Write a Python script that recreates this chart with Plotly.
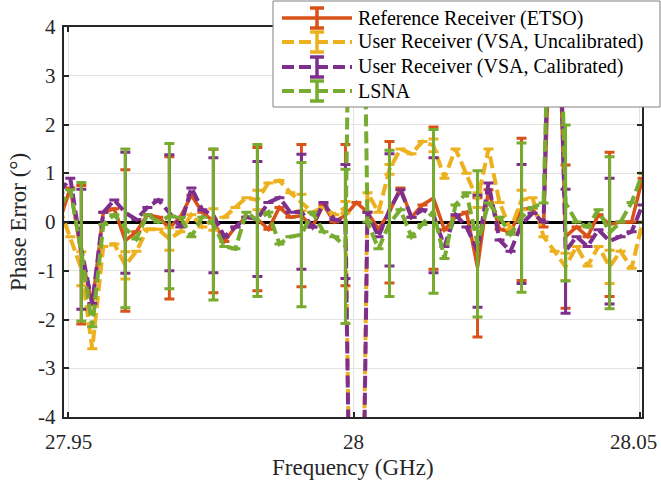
import plotly.graph_objects as go

# Frequencies (GHz)
freq = [27.94848, 27.95040, 27.95233, 27.95425, 27.95618, 27.95810, 27.96003, 27.96195,
        27.96388, 27.96580, 27.96773, 27.96965, 27.97158, 27.97350, 27.97543, 27.97735,
        27.97928, 27.98120, 27.98313, 27.98505, 27.98698, 27.98890, 27.99083, 27.99275,
        27.99468, 27.99660, 27.99853, 28.00045, 28.00238, 28.00430, 28.00623, 28.00815,
        28.01008, 28.01200, 28.01393, 28.01585, 28.01778, 28.01970, 28.02163, 28.02355,
        28.02548, 28.02740, 28.02933, 28.03125, 28.03318, 28.03510, 28.03703, 28.03895,
        28.04088, 28.04280, 28.04473, 28.04665, 28.04858, 28.05050]

# Phase error (deg)
ref_etso = [0.0, 0.7, -0.67, -1.7, 0.2, 0.27, -0.38, -0.2, 0.15, 0.1,
            -0.12, 0.1, 0.55, 0.2, 0.02, -0.4, -0.1, 0.1, 0.06, -0.15,
            0.3, 0.1, 0.13, -0.1, 0.35, 0.0, 0.14, 0.4, 0.2, -0.15,
            0.2, 0.7, 0.1, 0.35, 0.49, -0.16, 0.1, 0.2, -0.93, 0.66,
            -0.15, -0.2, 0.26, 0.28, -0.1, 7.0, -0.3, -0.1, -0.3, 0.15,
            -0.05, 0.0, 0.0, 0.9]
vsa_uncal = [0.3, -0.3, -0.96, -2.6, -0.5, -0.45, -0.89, -0.6, -0.15, -0.15,
             -0.35, -0.2, 0.15, -0.1, 0.05, 0.1, 0.3, 0.5, 0.45, 0.8,
             0.85, 0.6, 0.4, 0.2, 0.3, 0.15, 0.3, -16.0, 0.6, 0.2,
             1.08, 1.5, 1.4, 1.65, 1.57, 0.9, 1.5, 1.0, 0.45, 1.5,
             0.4, -0.15, 0.45, 0.5, -0.3, -0.6, -0.92, -0.5, -0.9, -0.5,
             -0.92, -0.6, -0.95, 0.0]
vsa_cal = [0.6, 0.9, -0.56, -1.67, 0.2, 0.45, 0.19, 0.05, 0.3, 0.45,
           0.19, -0.1, 0.7, 0.25, 0.14, -0.3, -0.1, 0.1, 0.06, 0.4,
           0.5, 0.2, 0.21, -0.1, 0.4, 0.05, 0.01, -16.0, 0.2, -0.3,
           0.25, 0.66, 0.1, 0.25, 0.14, -0.5, 0.15, -0.1, -0.6, 0.8,
           -0.37, -0.6, -0.04, 0.18, 0.0, 9.0, -0.6, -0.3, -0.5, -0.16,
           -0.39, -0.3, -0.2, 0.35]
lsna = [0.3, 0.66, -0.61, -2.15, -0.05, 0.15, -0.13, -0.35, 0.15, 0.0,
        0.12, 0.1, -0.3, 0.1, -0.05, -0.5, -0.55, 0.2, 0.03, 0.2,
        -0.45, -0.3, -0.26, 0.2, -0.2, -0.3, -0.5, 16.0, 0.0, -0.55,
        -0.03, 0.25, -0.3, -0.05, 0.22, -0.75, 0.35, 0.6, -0.45, 0.39,
        0.1, -0.25, 0.09, 0.3, 0.39, 9.0, 0.39, 0.0, -0.1, 0.25,
        -0.22, 0.0, 0.4, 1.0]

# Error-bar half widths (deg) at the marked frequency indices
bar_idx = [2, 6, 10, 14, 18, 22, 26, 30, 34, 38, 42, 46, 50]
err_etso = [1.42, 1.45, 1.46, 1.47, 1.47, 1.46, 1.45, 1.45, 1.46, 1.43, 1.46, 1.47, 1.48]
err_uncal = [0.35, 0.28, 0.23, 0.22, 0.20, 0.17, 0.12, 0.10, 0.13, 0.15, 0.20, 0.28, 0.34]
err_cal = [1.23, 1.24, 1.19, 1.18, 1.18, 1.18, 1.17, 1.15, 1.18, 1.15, 1.22, 1.27, 1.29]
err_lsna = [1.42, 1.63, 1.49, 1.55, 1.56, 1.48, 1.58, 1.50, 1.68, 1.50, 1.53, 1.60, 1.56]

# Axis ticks
x_ticks = [27.95, 28.0, 28.05]
x_tick_text = ["27.95", "28", "28.05"]
y_ticks = [-4, -3, -2, -1, 0, 1, 2, 3, 4]
y_tick_text = ["-4", "-3", "-2", "-1", "0", "1", "2", "3", "4"]

names = ["Reference Receiver (ETSO)", "User Receiver (VSA, Uncalibrated)",
         "User Receiver (VSA, Calibrated)", "LSNA"]
colors = ["#D95319", "#EDB120", "#7E2F8E", "#77AC30"]

FF = "Liberation Serif, Times New Roman, Times, serif"
TXT = "#262626"

# plot area in pixels (for placing the drawn legend / labels)
L, R, T, B = 64, 642, 27, 417


def fx(px):
    return (px - L) / (R - L)


def fy(py):
    return (B - py) / (B - T)


def err_array(errs):
    arr = [0.0] * len(freq)
    for k, i in enumerate(bar_idx):
        arr[i] = errs[k]
    return arr


fig = go.Figure()
series = [ref_etso, vsa_uncal, vsa_cal, lsna]
errs = [err_etso, err_uncal, err_cal, err_lsna]
dashes = ["solid", "12px,5px", "12px,5px", "12px,5px"]
widths = [3.5, 4, 4, 4]
for s, e, n, c, d, w in zip(series, errs, names, colors, dashes, widths):
    fig.add_trace(go.Scatter(
        x=freq, y=s, name=n, mode="lines", showlegend=False,
        line=dict(color=c, width=w, dash=d),
        error_y=dict(type="data", array=err_array(e), visible=True,
                     color=c, thickness=3, width=5),
    ))

# tick labels
for v, t in zip(y_ticks, y_tick_text):
    fig.add_annotation(x=fx(58), xref="paper", y=v, yref="y", text=t, showarrow=False,
                       xanchor="right", yanchor="middle",
                       font=dict(family=FF, size=21, color=TXT))
for v, t in zip(x_ticks, x_tick_text):
    if v == x_ticks[-1]:
        # keep the last label inside the page
        fig.add_annotation(x=fx(659), xref="paper", y=fy(428), yref="paper", text=t,
                           showarrow=False, xanchor="right", yanchor="top",
                           font=dict(family=FF, size=21, color=TXT))
    else:
        fig.add_annotation(x=v, xref="x", y=fy(428), yref="paper", text=t, showarrow=False,
                           xanchor="center", yanchor="top",
                           font=dict(family=FF, size=21, color=TXT))

# axis titles
fig.add_annotation(x=0.5, xref="paper", y=fy(467), yref="paper", text="Frequency (GHz)",
                   showarrow=False, xanchor="center", yanchor="middle",
                   font=dict(family=FF, size=23, color=TXT))
fig.add_annotation(x=fx(18), xref="paper", y=0.5, yref="paper", text="Phase Error (°)",
                   showarrow=False, xanchor="center", yanchor="middle", textangle=-90,
                   font=dict(family=FF, size=23, color=TXT))

# legend box with line + error-bar glyphs
fig.add_shape(type="rect", xref="paper", yref="paper", layer="above",
              x0=fx(273), x1=fx(660), y0=fy(107), y1=fy(1),
              fillcolor="white", line=dict(color="#808080", width=1))
row_y = [18, 42, 67, 91]
for n, c, d, w, ry in zip(names, colors, dashes, widths, row_y):
    fig.add_shape(type="line", xref="paper", yref="paper", layer="above",
                  x0=fx(282), x1=fx(352), y0=fy(ry), y1=fy(ry),
                  line=dict(color=c, width=w, dash=d))
    fig.add_shape(type="line", xref="paper", yref="paper", layer="above",
                  x0=fx(317), x1=fx(317), y0=fy(ry - 10), y1=fy(ry + 10),
                  line=dict(color=c, width=3.5))
    for dy in (-10, 10):
        fig.add_shape(type="line", xref="paper", yref="paper", layer="above",
                      x0=fx(310), x1=fx(324), y0=fy(ry + dy), y1=fy(ry + dy),
                      line=dict(color=c, width=3.5))
    fig.add_annotation(x=fx(356), xref="paper", y=fy(ry), yref="paper", text=n,
                       showarrow=False, xanchor="left", yanchor="middle",
                       font=dict(family=FF, size=20, color="black"))

fig.update_layout(
    width=661, height=489,
    margin=dict(l=L, r=661 - R, t=T, b=489 - B, autoexpand=False),
    paper_bgcolor="white", plot_bgcolor="white",
    font=dict(family=FF, size=20, color=TXT),
    showlegend=False,
    xaxis=dict(range=[27.9493, 28.0504], tickvals=x_ticks, showticklabels=False,
               showgrid=True, gridcolor="#e3e3e3", gridwidth=1,
               showline=True, linecolor="#262626", linewidth=2, mirror="ticks",
               ticks="inside", ticklen=5, tickcolor="#262626", tickwidth=1.5,
               zeroline=False),
    yaxis=dict(range=[-4, 4], tickvals=y_ticks, showticklabels=False,
               showgrid=True, gridcolor="#e3e3e3", gridwidth=1,
               showline=True, linecolor="#262626", linewidth=2, mirror="ticks",
               ticks="inside", ticklen=5, tickcolor="#262626", tickwidth=1.5,
               zeroline=True, zerolinecolor="black", zerolinewidth=3),
)

fig.write_html("out.html")
